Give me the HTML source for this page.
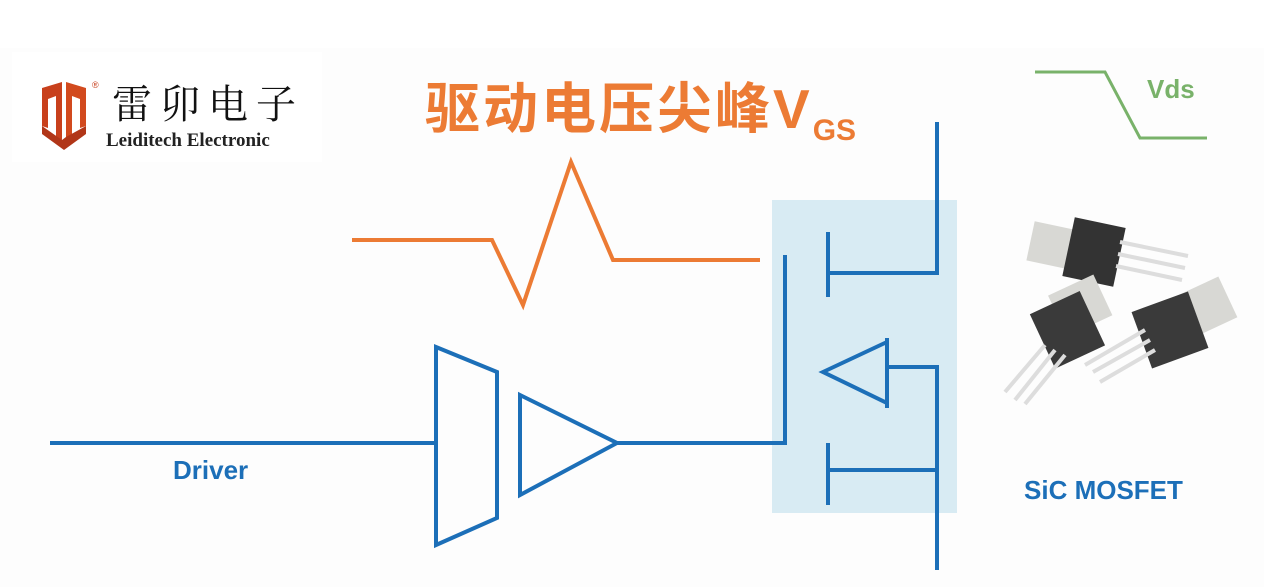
<!DOCTYPE html>
<html><head><meta charset="utf-8"><style>
body{margin:0;width:1264px;height:587px;background:#fff;overflow:hidden;position:relative;font-family:"Liberation Sans","Noto Sans CJK SC",sans-serif}
.t{position:absolute;white-space:nowrap}
</style></head><body>
<div style="position:absolute;left:0;top:48px;width:1264px;height:539px;background:#fdfdfd"></div>
<div style="position:absolute;left:12px;top:52px;width:310px;height:110px;background:#fff"></div>
<svg width="1264" height="587" style="position:absolute;left:0;top:0">
<rect x="772" y="200" width="185" height="313" fill="#d8ebf3"/>
<path d="M42 88 L62 82 L62 140 L56 137 L56 96 L48 99 L48 128 L42 126 Z" fill="#c8401c"/>
<path d="M66 82 L86 88 L86 126 L80 128 L80 99 L72 96 L72 140 L66 137 Z" fill="#d24a1e"/>
<path d="M42 126 L62 140 L66 137 L86 126 L86 134 L64 150 L42 134 Z" fill="#b13618"/>
<polyline points="352,240 492,240 523,305 571,162 613,260 760,260" fill="none" stroke="#ec7b34" stroke-width="4"/>
<polyline points="1035,72 1105,72 1140,138 1207,138" fill="none" stroke="#79b26a" stroke-width="3"/>
<g fill="none" stroke="#1c6fb8" stroke-width="4">
<line x1="50" y1="443" x2="436" y2="443"/>
<polygon points="436,347 497,372 497,518 436,545"/>
<polygon points="520,395 617,443 520,495"/>
<polyline points="617,443 785,443 785,255"/>
<line x1="828" y1="232" x2="828" y2="297"/>
<polyline points="830,273 937,273 937,122"/>
<polygon points="823,372 887,342 887,403"/>
<line x1="887" y1="338" x2="887" y2="408"/>
<polyline points="889,367 937,367 937,570"/>
<line x1="828" y1="443" x2="828" y2="505"/>
<line x1="830" y1="470" x2="937" y2="470"/>
</g>
<g>
<rect x="1030" y="226" width="50" height="40" fill="#d8d8d4" transform="rotate(12 1055 246)"/>
<rect x="1068" y="222" width="52" height="60" fill="#333" transform="rotate(12 1094 252)"/>
<g stroke="#ddd" stroke-width="4"><line x1="1120" y1="242" x2="1188" y2="256"/><line x1="1118" y1="254" x2="1185" y2="268"/><line x1="1116" y1="266" x2="1182" y2="280"/></g>
<rect x="1055" y="283" width="50" height="45" fill="#d8d8d4" transform="rotate(-25 1080 305)"/>
<rect x="1040" y="300" width="55" height="60" fill="#3a3a3a" transform="rotate(-25 1067 330)"/>
<g stroke="#ddd" stroke-width="4"><line x1="1045" y1="345" x2="1005" y2="392"/><line x1="1055" y1="350" x2="1015" y2="400"/><line x1="1065" y1="355" x2="1025" y2="404"/></g>
<rect x="1180" y="285" width="50" height="45" fill="#d8d8d4" transform="rotate(-25 1205 307)"/>
<rect x="1140" y="300" width="60" height="60" fill="#3a3a3a" transform="rotate(-20 1170 330)"/>
<g stroke="#ddd" stroke-width="4"><line x1="1145" y1="330" x2="1085" y2="365"/><line x1="1150" y1="340" x2="1093" y2="372"/><line x1="1155" y1="350" x2="1100" y2="382"/></g>
</g>
</svg>
<div class="t" style="left:112px;top:80px;font-size:40px;letter-spacing:8px;font-family:'Noto Serif CJK SC',serif;color:#111;line-height:44px">雷卯电子</div>
<div class="t" style="left:92px;top:80px;font-size:9px;color:#c8401c">®</div>
<div class="t" style="left:106px;top:130px;font-size:19px;font-family:'Liberation Serif',serif;font-weight:bold;color:#222">Leiditech Electronic</div>
<div class="t" style="left:425px;top:78px;font-size:55px;font-weight:bold;color:#ec7b34;line-height:62px;letter-spacing:3px">驱动电压尖峰V<span style="font-size:30px;position:relative;top:12px;letter-spacing:0">GS</span></div>
<div class="t" style="left:1147px;top:74px;font-size:26px;font-weight:bold;color:#79b26a">Vds</div>
<div class="t" style="left:173px;top:455px;font-size:26px;font-weight:bold;color:#1c6fb8">Driver</div>
<div class="t" style="left:1024px;top:475px;font-size:26px;font-weight:bold;color:#1c6fb8">SiC MOSFET</div>
</body></html>
